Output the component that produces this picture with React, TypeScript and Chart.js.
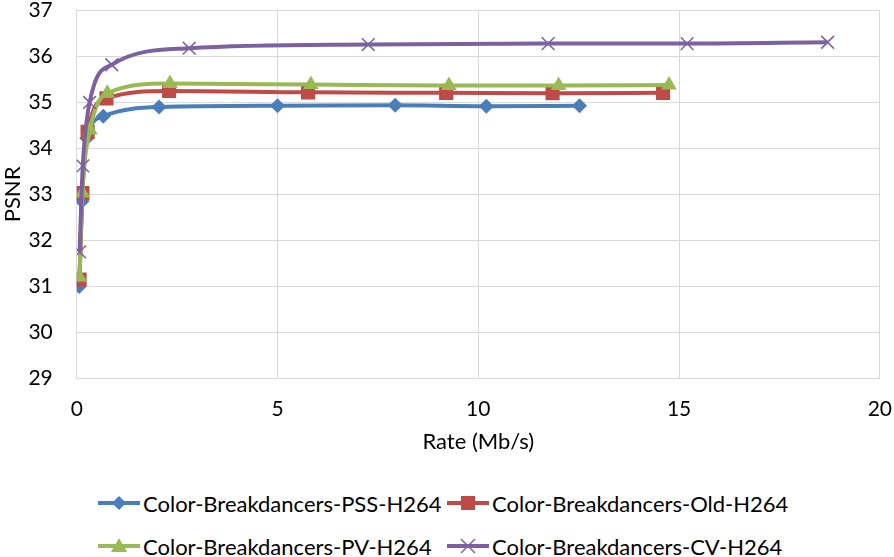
import React, { useEffect, useRef } from "react";
import { Chart, registerables } from "chart.js";

Chart.register(...registerables);

const seriesNames = [
  "Color-Breakdancers-PSS-H264",
  "Color-Breakdancers-Old-H264",
  "Color-Breakdancers-PV-H264",
  "Color-Breakdancers-CV-H264",
];

const pssRate = [0.06, 0.13, 0.25, 0.66, 2.05, 5.0, 7.93, 10.2, 12.52];
const pssPsnr = [31.0, 32.85, 34.22, 34.7, 34.9, 34.93, 34.94, 34.92, 34.93];

const oldRate = [0.07, 0.14, 0.27, 0.74, 2.3, 5.76, 9.2, 11.85, 14.6];
const oldPsnr = [31.15, 33.03, 34.36, 35.09, 35.25, 35.22, 35.21, 35.2, 35.21];

const pvRate = [0.07, 0.14, 0.33, 0.76, 2.32, 5.83, 9.27, 12.0, 14.75];
const pvPsnr = [31.2, 33.03, 34.4, 35.2, 35.41, 35.39, 35.37, 35.37, 35.38];

const cvRate = [0.07, 0.15, 0.32, 0.87, 2.8, 7.26, 11.74, 15.2, 18.7];
const cvPsnr = [31.75, 33.62, 35.0, 35.82, 36.18, 36.26, 36.28, 36.28, 36.31];

const xTicks = [0, 5, 10, 15, 20];
const yTicks = [29, 30, 31, 32, 33, 34, 35, 36, 37];

const colors = ["#4A7EBB", "#BE4B48", "#98B954", "#7D60A0"];
const pointStyles = ["rectRot", "rect", "triangle", "crossRot"];
const pointRadii = [7.5, 10, 9, 9];

const FONT = "Lato, 'DejaVu Sans', sans-serif";

function zip(xs: number[], ys: number[]) {
  return xs.map((x, i) => ({ x, y: ys[i] }));
}

function LegendMarker({ idx }: { idx: number }) {
  const c = colors[idx];
  let marker: React.ReactNode = null;
  if (idx === 0) marker = <polygon points="21,3 28,10 21,17 14,10" fill={c} />;
  if (idx === 1) marker = <rect x="14" y="3" width="14" height="14" fill={c} />;
  if (idx === 2) marker = <polygon points="21,2 29,16 13,16" fill={c} />;
  if (idx === 3)
    marker = (
      <g stroke={c} strokeWidth="1.5">
        <line x1="14" y1="3" x2="28" y2="17" />
        <line x1="28" y1="3" x2="14" y2="17" />
      </g>
    );
  return (
    <svg width="42" height="20" style={{ display: "block" }}>
      <line x1="0" y1="10" x2="42" y2="10" stroke={c} strokeWidth="4" />
      {marker}
    </svg>
  );
}

export default function App() {
  const canvasRef = useRef<HTMLCanvasElement | null>(null);

  useEffect(() => {
    if (!canvasRef.current) return;
    const data = [
      zip(pssRate, pssPsnr),
      zip(oldRate, oldPsnr),
      zip(pvRate, pvPsnr),
      zip(cvRate, cvPsnr),
    ];
    const chart = new Chart(canvasRef.current, {
      type: "line",
      data: {
        datasets: data.map((d, i) => ({
          label: seriesNames[i],
          data: d,
          borderColor: colors[i],
          backgroundColor: colors[i],
          borderWidth: 4,
          pointStyle: pointStyles[i] as any,
          pointRadius: pointRadii[i],
          pointBorderWidth: i === 3 ? 1.5 : 0,
          pointBackgroundColor: colors[i],
          pointBorderColor: colors[i],
          cubicInterpolationMode: "monotone" as const,
          fill: false,
          order: 3 - i,
        })),
      },
      options: {
        animation: false,
        responsive: false,
        maintainAspectRatio: false,
        layout: { padding: { top: 0, right: 1, left: 0, bottom: 15 } },
        plugins: {
          legend: { display: false },
          tooltip: { enabled: false },
        },
        scales: {
          x: {
            type: "linear",
            min: xTicks[0],
            max: xTicks[xTicks.length - 1],
            afterBuildTicks: (axis: any) => {
              axis.ticks = xTicks.map((v) => ({ value: v }));
            },
            ticks: {
              color: "#000",
              font: { family: FONT, size: 21 },
              padding: 2,
            },
            grid: {
              color: "#D9D9D9",
              drawTicks: true,
              tickLength: 16,
              tickColor: "rgba(0,0,0,0)",
              lineWidth: 1,
            },
            border: { color: "#D9D9D9" },
            title: {
              display: true,
              text: "Rate (Mb/s)",
              color: "#000",
              font: { family: FONT, size: 22 },
              padding: { top: 5, bottom: 0 },
            },
          },
          y: {
            type: "linear",
            min: yTicks[0],
            max: yTicks[yTicks.length - 1],
            afterBuildTicks: (axis: any) => {
              axis.ticks = yTicks.map((v) => ({ value: v }));
            },
            ticks: {
              color: "#000",
              font: { family: FONT, size: 21, lineHeight: 0.9 },
              padding: 0,
            },
            grid: {
              color: "#D9D9D9",
              drawTicks: true,
              tickLength: 24,
              tickColor: "rgba(0,0,0,0)",
              lineWidth: 1,
            },
            border: { color: "#D9D9D9" },
            title: {
              display: true,
              text: "PSNR",
              color: "#000",
              font: { family: FONT, size: 22 },
              padding: { top: 0, bottom: 2 },
            },
          },
        },
      },
    });
    return () => chart.destroy();
  }, []);

  const legendRows = [
    [0, 1],
    [2, 3],
  ];

  return (
    <div
      style={{
        position: "fixed",
        left: 0,
        top: 0,
        width: 894,
        height: 557,
        background: "#fff",
        overflow: "hidden",
      }}
    >
      <canvas ref={canvasRef} width={894} height={470} style={{ display: "block" }} />
      {legendRows.map((row, r) => (
        <div
          key={r}
          style={{
            position: "absolute",
            left: 98,
            top: 490 + r * 43,
            height: 26,
            display: "flex",
            alignItems: "center",
            fontFamily: FONT,
            fontSize: 22,
            color: "#000",
            whiteSpace: "nowrap",
          }}
        >
          {row.map((idx, k) => (
            <div
              key={idx}
              style={{
                display: "flex",
                alignItems: "center",
                width: k === 0 ? 349 : undefined,
              }}
            >
              <LegendMarker idx={idx} />
              <span style={{ marginLeft: 3 }}>{seriesNames[idx]}</span>
            </div>
          ))}
        </div>
      ))}
    </div>
  );
}
